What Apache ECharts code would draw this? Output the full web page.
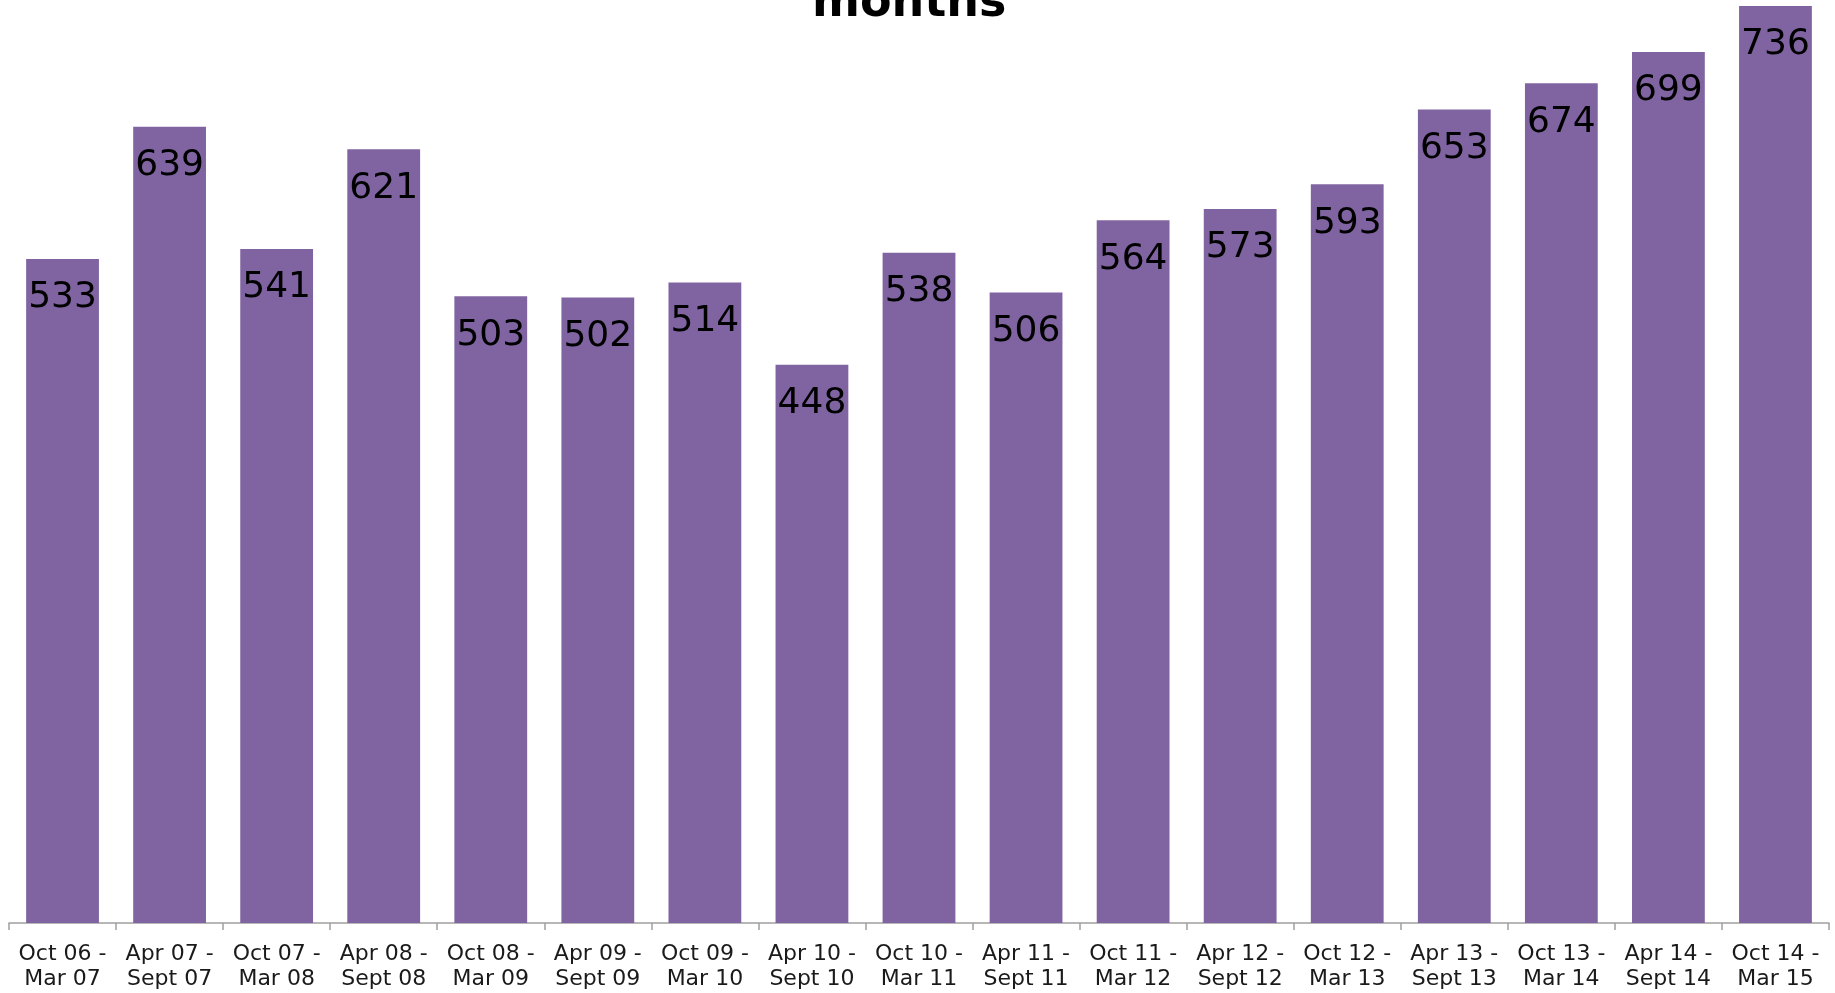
<!DOCTYPE html>
<html>
<head>
<meta charset="utf-8">
<script src="https://cdn.jsdelivr.net/npm/echarts@6/dist/echarts.min.js"></script>
<style>html,body{margin:0;padding:0;background:#fff}#chart{width:1835px;height:993px}</style>
</head>
<body>
<div id="chart"></div>
<script>
const categories = ['Oct 06 -\nMar 07','Apr 07 -\nSept 07','Oct 07 -\nMar 08','Apr 08 -\nSept 08','Oct 08 -\nMar 09','Apr 09 -\nSept 09','Oct 09 -\nMar 10','Apr 10 -\nSept 10','Oct 10 -\nMar 11','Apr 11 -\nSept 11','Oct 11 -\nMar 12','Apr 12 -\nSept 12','Oct 12 -\nMar 13','Apr 13 -\nSept 13','Oct 13 -\nMar 14','Apr 14 -\nSept 14','Oct 14 -\nMar 15'];
const values = [533,639,541,621,503,502,514,448,538,506,564,573,593,653,674,699,736];
const titleText = 'months';

const chart = echarts.init(document.getElementById('chart'));
chart.setOption({
  animation: false,
  title: {
    text: titleText,
    left: 812,
    top: -19,
    padding: 0,
    textStyle: {fontFamily: 'DejaVu Sans', fontWeight: 'bold', fontSize: 46, color: '#000'}
  },
  grid: {left: 9, right: 6, top: 1, bottom: 70, containLabel: false},
  xAxis: {
    type: 'category',
    data: categories,
    axisLine: {lineStyle: {color: '#a0a0a0', width: 1.5}},
    axisTick: {show: true, length: 7, lineStyle: {color: '#a0a0a0', width: 1.5}},
    axisLabel: {interval: 0, margin: 19, fontFamily: 'DejaVu Sans', fontSize: 22, lineHeight: 25, color: '#1a1a1a'}
  },
  yAxis: {
    type: 'value', min: 0, max: 740, show: false,
    splitLine: {show: false}
  },
  series: [{
    type: 'bar',
    data: values,
    barCategoryGap: '32%',
    itemStyle: {color: '#8064A2'},
    label: {
      show: true, position: 'insideTop', distance: 21,
      fontFamily: 'DejaVu Sans', fontSize: 36, color: '#000'
    }
  }]
});
</script>
</body>
</html>
